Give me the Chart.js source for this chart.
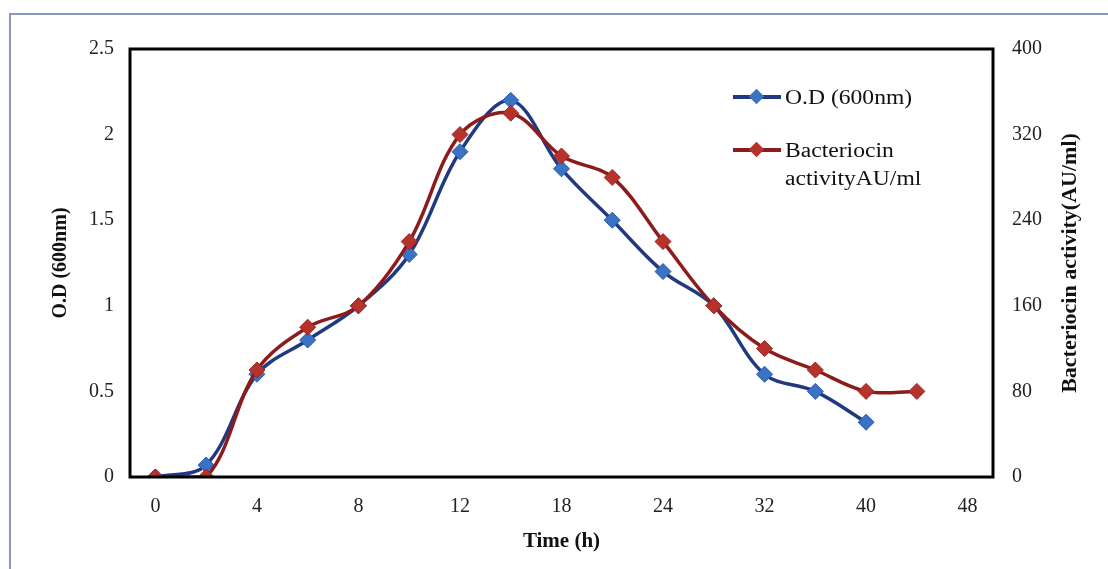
<!DOCTYPE html>
<html>
<head>
<meta charset="utf-8">
<script src="https://cdn.jsdelivr.net/npm/chart.js@4"></script>
<style>
  html, body { margin: 0; padding: 0; background: #fff; }
  #wrap { position: relative; width: 1108px; height: 569px; overflow: hidden; }
  #frame { position: absolute; left: 9px; top: 13px; width: 1200px; height: 700px;
           border-left: 2px solid #8a97b8; border-top: 2px solid #8a97b8; }
  #chart { position: absolute; left: 0; top: 0; }
  .legend { position: absolute; left: 733px; font-family: "Liberation Serif", "Times New Roman", serif;
            font-size: 20px; color: #111; line-height: 28px; }
  .legend .row { position: relative; padding-left: 52px; }
  .legend .ln { position: absolute; left: 0; top: 12px; width: 48px; height: 4px; }
  .legend .dm { position: absolute; left: 18px; top: 8px; width: 11px; height: 11px; transform: rotate(45deg); }
  .legend span { display: inline-block; transform: scaleX(1.18); transform-origin: left center; }
</style>
</head>
<body>
<div id="wrap">
  <div id="frame"></div>
  <canvas id="chart" width="1108" height="569"></canvas>
  <div class="legend" style="top:83px">
    <div class="row"><div class="ln" style="background:#1f3a80"></div><div class="dm" style="background:#3a73c4"></div><span>O.D (600nm)</span></div>
  </div>
  <div class="legend" style="top:136px">
    <div class="row"><div class="ln" style="background:#8c1c1c"></div><div class="dm" style="background:#b8322c"></div><span>Bacteriocin</span></div>
    <div class="row"><span>activityAU/ml</span></div>
  </div>
</div>
<script>
// time points (h), every other one is labelled on the axis
const timeLabels = ['0', '2', '4', '6', '8', '10', '12', '15', '18', '21', '24', '28', '32', '36', '40', '44', '48'];
const odValues = [0, 0.07, 0.6, 0.8, 1.0, 1.3, 1.9, 2.2, 1.8, 1.5, 1.2, 1.0, 0.6, 0.5, 0.32, null, null];
const bacteriocinValues = [0, 0, 100, 140, 160, 220, 320, 340, 300, 280, 220, 160, 120, 100, 80, 80, null];
const odTicks = [0, 0.5, 1, 1.5, 2, 2.5];
const activityTicks = [0, 80, 160, 240, 320, 400];

const serif = '"Liberation Serif", "Times New Roman", serif';
const rightTitle = 'Bacteriocin activity(AU/ml)';

// thick box round the plot area, plus the right title read bottom to top
const plotBox = {
    id: 'plotBox',
    afterDraw(chart) {
        const a = chart.chartArea;
        const ctx = chart.ctx;
        ctx.save();
        ctx.strokeStyle = '#000';
        ctx.lineWidth = 3;
        ctx.strokeRect(a.left, a.top, a.right - a.left, a.bottom - a.top);
        ctx.translate(1070, (a.top + a.bottom) / 2);
        ctx.rotate(-Math.PI / 2);
        ctx.fillStyle = '#111';
        ctx.font = 'bold 22px ' + serif;
        ctx.textAlign = 'center';
        ctx.textBaseline = 'middle';
        ctx.fillText(rightTitle, 0, 0);
        ctx.restore();
    }
};

new Chart(document.getElementById('chart'), {
    type: 'line',
    data: {
        labels: timeLabels,
        datasets: [{
            label: 'O.D (600nm)',
            data: odValues,
            yAxisID: 'yOD',
            borderColor: '#1f3a80',
            backgroundColor: '#3a73c4',
            pointBackgroundColor: '#3a73c4',
            pointBorderColor: '#2a5aa8',
            pointBorderWidth: 1,
            pointStyle: 'rectRot',
            pointRadius: 8,
            borderWidth: 3.5,
            tension: 0.35,
            order: 2
        }, {
            label: 'Bacteriocin activityAU/ml',
            data: bacteriocinValues,
            yAxisID: 'yAct',
            borderColor: '#8c1c1c',
            backgroundColor: '#b8322c',
            pointBackgroundColor: '#b8322c',
            pointBorderColor: '#9a2622',
            pointBorderWidth: 1,
            pointStyle: 'rectRot',
            pointRadius: 8,
            borderWidth: 3.5,
            tension: 0.35,
            order: 1
        }]
    },
    options: {
        responsive: false,
        animation: false,
        layout: { padding: { top: 49, left: 0, right: 0, bottom: 0 } },
        plugins: { legend: { display: false }, tooltip: { enabled: false } },
        scales: {
            x: {
                type: 'category',
                offset: true,
                grid: { display: false, drawTicks: false },
                border: { display: false },
                ticks: {
                    autoSkip: false,
                    maxRotation: 0,
                    padding: 18,
                    color: '#222',
                    font: { family: serif, size: 20 },
                    callback: function (value, index) {
                        return index % 2 === 0 ? this.getLabelForValue(value) : '';
                    }
                },
                title: {
                    display: true,
                    text: 'Time (h)',
                    color: '#111',
                    font: { family: serif, size: 21, weight: 'bold' },
                    padding: { top: 0, bottom: 15 }
                },
                afterFit(scale) { scale.height = 92; }
            },
            yOD: {
                position: 'left',
                min: 0,
                max: 2.5,
                grid: { display: false, drawTicks: false },
                border: { display: false },
                afterBuildTicks(scale) { scale.ticks = odTicks.map(v => ({ value: v })); },
                ticks: {
                    padding: 16,
                    color: '#222',
                    font: { family: serif, size: 20 },
                    callback: v => String(v)
                },
                title: {
                    display: true,
                    text: 'O.D (600nm)',
                    color: '#111',
                    font: { family: serif, size: 20, weight: 'bold' },
                    padding: { top: 49, bottom: 0 }
                },
                afterFit(scale) { scale.width = 130; }
            },
            yAct: {
                position: 'right',
                min: 0,
                max: 400,
                grid: { display: false, drawTicks: false },
                border: { display: false },
                afterBuildTicks(scale) { scale.ticks = activityTicks.map(v => ({ value: v })); },
                ticks: {
                    padding: 19,
                    color: '#222',
                    font: { family: serif, size: 20 },
                    callback: v => String(v)
                },
                afterFit(scale) { scale.width = 115; }
            }
        }
    },
    plugins: [plotBox]
});
</script>
</body>
</html>
